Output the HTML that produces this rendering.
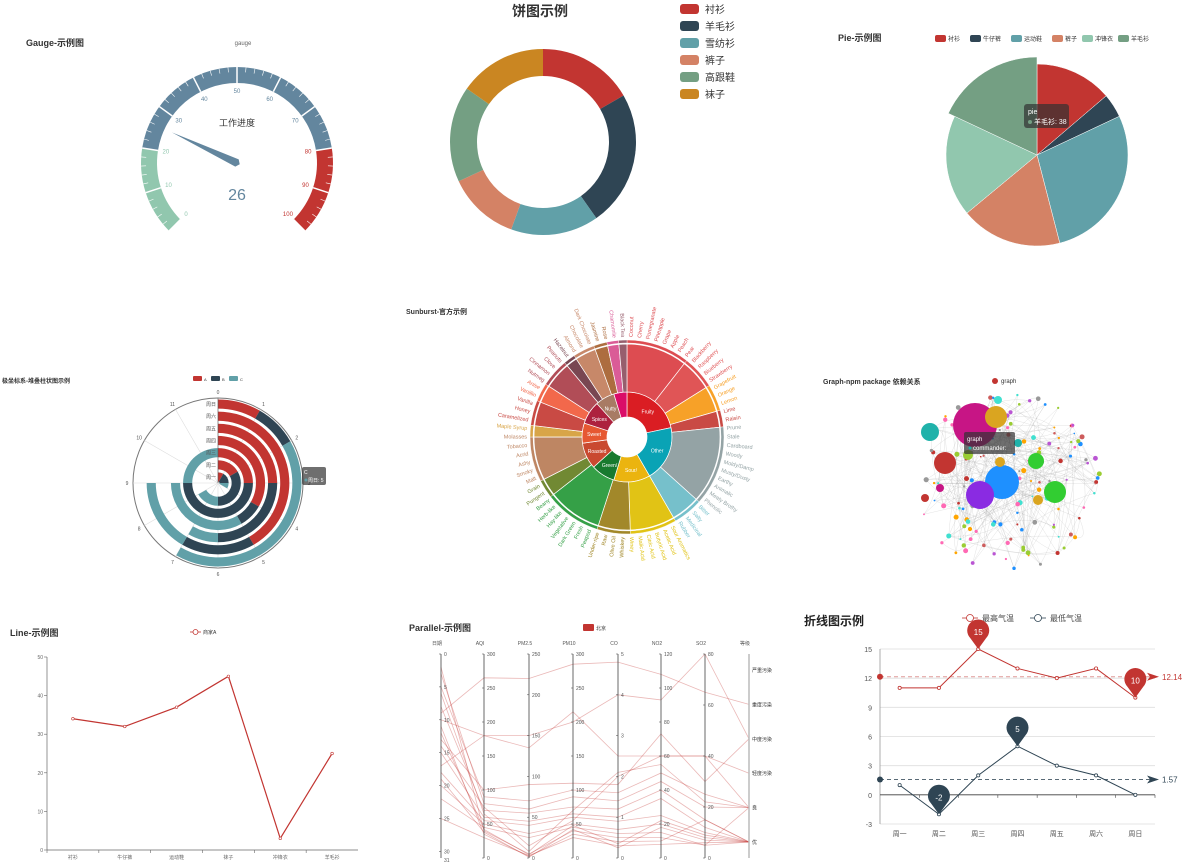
<!DOCTYPE html>
<html><head><meta charset="utf-8">
<style>
html,body{margin:0;padding:0;background:#fff;}
svg{display:block;font-family:"Liberation Sans","Noto Sans CJK SC",sans-serif;}
</style></head>
<body>
<svg id="root" width="1185" height="864" viewBox="0 0 1185 864" xmlns="http://www.w3.org/2000/svg">
<g id="gGauge"></g>
<g id="gDonut"></g>
<g id="gPie"></g>
<g id="gPolar"></g>
<g id="gSun"></g>
<g id="gGraph"></g>
<g id="gLine"></g>
<g id="gPar"></g>
<g id="gTemp"></g>
</svg>
<script>
// ---------- data ----------
const gaugeValue = 26;
const donutCats = ['衬衫','羊毛衫','雪纺衫','裤子','高跟鞋','袜子'];
const donutVals = [60,85,55,45,60,55];
const pieCats = ['衬衫','牛仔裤','运动鞋','裤子','冲锋衣','羊毛衫'];
const pieVals = [29,9,59,38,38,38];
const polarCats = ['周一','周二','周三','周四','周五','周六','周日'];
const polarA = [1,2,3,4,3,5,1];
const polarB = [2,4,6,1,3,2,1];
const polarC = [1,2,3,4,1,2,5];
const lineCats = ['衬衫','牛仔裤','运动鞋','袜子','冲锋衣','羊毛衫'];
const lineVals = [34,32,37,45,3,25];
const parDims = ['日期','AQI','PM2.5','PM10','CO','NO2','SO2','等级'];
const parMax = [31,300,250,300,5,120,80,5];
const parSteps = [5,50,50,50,1,20,20];
const parLevels = ['优','良','轻度污染','中度污染','重度污染','严重污染'];
const parRows = [
 [9,265,220,285,4.8,108,65,4],[17,180,150,200,4,93,80,3],[10,180,135,215,2.5,60,40,2],
 [13,100,90,110,1.8,73,30,3],[5,90,70,100,1.6,50,25,1],[3,80,60,90,1.4,45,20,1],
 [8,70,55,75,1.2,40,15,0],[15,60,45,65,1,35,12,0],[18,55,40,60,0.9,25,10,0],
 [20,50,30,50,0.7,20,8,0],[22,45,25,45,0.6,15,5,0],[2,40,5,40,0.5,12,5,1],
 [11,35,2,35,0.4,10,15,0],[25,30,3,30,0.3,8,6,0],[14,75,15,55,2,60,40,1],[6,65,8,70,2.1,55,22,1],
 [12,42,4,48,0.35,22,9,0],[19,38,1,42,0.25,18,7,0]
];
const tempCats = ['周一','周二','周三','周四','周五','周六','周日'];
const tempHigh = [11,11,15,13,12,13,10];
const tempLow = [1,-2,2,5,3,2,0];

// ---------- helpers ----------
const NS='http://www.w3.org/2000/svg';
function el(parent,tag,attrs,txt){const e=document.createElementNS(NS,tag);for(const k in attrs)e.setAttribute(k,attrs[k]);if(txt!==undefined)e.textContent=txt;parent.appendChild(e);return e;}
function pt(cx,cy,r,a){const t=a*Math.PI/180;return [cx+r*Math.sin(t),cy-r*Math.cos(t)];}
function arcPath(cx,cy,r0,r1,a0,a1){
 const big=(a1-a0)>180?1:0;const p1=pt(cx,cy,r1,a0),p2=pt(cx,cy,r1,a1);
 if(r0<=0){return `M${cx},${cy}L${p1[0]},${p1[1]}A${r1},${r1} 0 ${big} 1 ${p2[0]},${p2[1]}Z`;}
 const p3=pt(cx,cy,r0,a1),p4=pt(cx,cy,r0,a0);
 return `M${p1[0]},${p1[1]}A${r1},${r1} 0 ${big} 1 ${p2[0]},${p2[1]}L${p3[0]},${p3[1]}A${r0},${r0} 0 ${big} 0 ${p4[0]},${p4[1]}Z`;}
const PAL=['#c23531','#2f4554','#61a0a8','#d48265','#91c7ae','#749f83','#ca8622'];

// ---------- gauge ----------
(function(){const g=document.getElementById('gGauge');
 let t=el(g,'text',{x:26,y:46,'font-size':9,'font-weight':'bold',fill:'#333'},'Gauge-示例图');
 
 t=el(g,'text',{x:243,y:45,'font-size':6,fill:'#666','text-anchor':'middle'},'gauge');
 
 const cx=237,cy=163,R=96,r=80;
 const segs=[[0,20,'#91c7ae'],[20,80,'#63869e'],[80,100,'#c23531']];
 const ang=v=>-135+270*v/100;
 segs.forEach(s=>{const p=el(g,'path',{d:arcPath(cx,cy,r,R,ang(s[0]),ang(s[1])),fill:s[2]});
  });
 for(let v=0;v<=100;v+=2){const a=ang(v);const big=v%10===0;
  const p1=pt(cx,cy,R,a),p2=pt(cx,cy,big?r:R-5,a);
  el(g,'line',{x1:p1[0],y1:p1[1],x2:p2[0],y2:p2[1],stroke:'#fff','stroke-width':big?1.5:0.6});}
 for(let v=0;v<=100;v+=10){const a=ang(v);const p=pt(cx,cy,72,a);
  const c=v<=20?'#91c7ae':(v<80?'#63869e':'#c23531');
  const l=el(g,'text',{x:p[0],y:p[1]+2,'font-size':6,fill:c,'text-anchor':'middle'},String(v));
  }
 const a=ang(gaugeValue);const tip=pt(cx,cy,72,a),b1=pt(cx,cy,4,a+90),b2=pt(cx,cy,4,a-90),back=pt(cx,cy,3,a+180);
 const n=el(g,'path',{d:`M${tip[0]},${tip[1]}L${b1[0]},${b1[1]}L${back[0]},${back[1]}L${b2[0]},${b2[1]}Z`,fill:'#63869e'});
 
 t=el(g,'text',{x:cx,y:126,'font-size':9,fill:'#333','text-anchor':'middle'},'工作进度');
 
 t=el(g,'text',{x:cx,y:200,'font-size':16,fill:'#63869e','text-anchor':'middle'},String(gaugeValue));
 
})();

// ---------- donut ----------
(function(){const g=document.getElementById('gDonut');
 let t=el(g,'text',{x:540,y:16,'font-size':14,'font-weight':'bold',fill:'#333','text-anchor':'middle'},'饼图示例');
 
 const tot=donutVals.reduce((a,b)=>a+b,0);let acc=0;
 donutVals.forEach((v,i)=>{const a0=acc/tot*360;acc+=v;const a1=acc/tot*360;
  const p=el(g,'path',{d:arcPath(543,142,66,93,a0,a1),fill:PAL[i===4?5:(i===5?6:i)]});
  
  const y=9+i*17;
  const r=el(g,'rect',{x:680,y:y-5,width:19,height:10,rx:3,fill:PAL[i===4?5:(i===5?6:i)]});
  
  const tx=el(g,'text',{x:705,y:y+4,'font-size':10,fill:'#333'},donutCats[i]);
  });
})();

// ---------- pie ----------
(function(){const g=document.getElementById('gPie');
 let t=el(g,'text',{x:838,y:41,'font-size':9,'font-weight':'bold',fill:'#333'},'Pie-示例图');
 
 const cols=['#c23531','#2f4554','#61a0a8','#d48265','#91c7ae','#749f83'];
 const tot=pieVals.reduce((a,b)=>a+b,0);let acc=0;
 pieVals.forEach((v,i)=>{const a0=acc/tot*360;acc+=v;const a1=acc/tot*360;
  const p=el(g,'path',{d:arcPath(1037,155,0,i===5?98:91,a0,a1),fill:cols[i],stroke:'#fff','stroke-width':0.5});
  });
 const lx=[935,970,1011,1052,1082,1118];
 pieCats.forEach((c,i)=>{const r=el(g,'rect',{x:lx[i],y:35,width:11,height:7,rx:2,fill:cols[i]});
  
  const tx=el(g,'text',{x:lx[i]+13,y:41,'font-size':6,fill:'#333'},c);
  });
 const tt=el(g,'g',{});
 el(tt,'rect',{x:1024,y:104,width:45,height:24,rx:3,fill:'rgba(50,50,50,0.7)'});
 el(tt,'text',{x:1028,y:114,'font-size':7,fill:'#fff'},'pie');
 el(tt,'circle',{cx:1030,cy:122,r:2,fill:'#749f83'});
 el(tt,'text',{x:1034,y:124,'font-size':7,fill:'#fff'},'羊毛衫: 38');
})();

// ---------- polar ----------
(function(){const g=document.getElementById('gPolar');
 let t=el(g,'text',{x:2,y:383,'font-size':6,'font-weight':'bold',fill:'#333'},'极坐标系-堆叠柱状图示例');
 
 const cols=['#c23531','#2f4554','#61a0a8'];['A','B','C'].forEach((n,i)=>{
  const r=el(g,'rect',{x:193+i*18,y:376,width:9,height:5,rx:1,fill:cols[i]});
  
  const tx=el(g,'text',{x:204+i*18,y:381,'font-size':4,fill:'#333'},n);
  });
 const cx=218,cy=483,R=85,band=R/7,maxV=12;
 const c=el(g,'circle',{cx,cy,r:R,fill:'none',stroke:'#777','stroke-width':1});
 
 for(let k=0;k<12;k++){const a=k*30;const p=pt(cx,cy,R,a);
  el(g,'line',{x1:cx,y1:cy,x2:p[0],y2:p[1],stroke:'#ddd','stroke-width':0.6});
  const q=pt(cx,cy,R+6,a);
  const l=el(g,'text',{x:q[0],y:q[1]+2,'font-size':5,fill:'#555','text-anchor':'middle'},String(k));
  }
 const va=v=>v/maxV*360;
 polarCats.forEach((cat,i)=>{let s=0;const r0=i*band+1.5,r1=(i+1)*band-1.5;
  [polarA,polarB,polarC].forEach((arr,j)=>{const v=arr[i];if(v>0){
   const p=el(g,'path',{d:arcPath(cx,cy,Math.max(r0,0.1),r1,va(s),va(s+v)),fill:cols[j]});
   }s+=v;});
  const l=el(g,'text',{x:cx-2,y:cy-(i+0.5)*band+2,'font-size':5,fill:'#555','text-anchor':'end'},cat);
  });
 el(g,'line',{x1:cx,y1:cy,x2:cx,y2:cy-R,stroke:'#555','stroke-width':0.6});
 const tt=el(g,'g',{});
 el(tt,'rect',{x:302,y:467,width:24,height:18,rx:2,fill:'rgba(50,50,50,0.7)'});
 el(tt,'text',{x:304,y:474,'font-size':5,fill:'#fff'},'C');
 el(tt,'circle',{cx:306,cy:480,r:1.5,fill:'#61a0a8'});
 el(tt,'text',{x:308,y:482,'font-size':5,fill:'#fff'},'周日: 5');
})();

// ---------- sunburst ----------
(function(){const g=document.getElementById('gSun');
 let t=el(g,'text',{x:406,y:314,'font-size':7,'font-weight':'bold',fill:'#333'},'Sunburst-官方示例');
 
 const cx=627,cy=437;
 const inner=[[0,78,'#da1d23'],[78,150,'#0aa3b5'],[150,197,'#ebb40f'],[197,228,'#187a2f'],[228,262,'#c94930'],[262,288,'#e65832'],[288,318,'#ad213e'],[318,343,'#a87b64'],[343,360,'#da0d68']];
 const outer=[[0,38,'#dd4c51'],[38,58,'#e05556'],[58,74,'#f7a128'],[74,84,'#c94a44'],[84,132,'#94a3a5'],[132,150,'#76c0cb'],[150,178,'#e1c315'],[178,198,'#a2882a'],[198,232,'#35a047'],[232,243,'#718933'],[243,270,'#be8663'],[270,277,'#d8a548'],[277,292,'#c94a44'],[292,303,'#f2684b'],[303,320,'#b14d57'],[320,327,'#794752'],[327,340,'#c78869'],[340,348,'#ad6d3f'],[348,355,'#da5c97'],[355,360,'#975e6d']];
 inner.forEach(s=>{const p=el(g,'path',{d:arcPath(cx,cy,20,45,s[0],s[1]),fill:s[2],stroke:'#fff','stroke-width':0.7});
  });
 outer.forEach(s=>{const p=el(g,'path',{d:arcPath(cx,cy,45,93,s[0],s[1]),fill:s[2],stroke:'#fff','stroke-width':0.7});
  
  const q=el(g,'path',{d:arcPath(cx,cy,94,97,s[0],s[1]),fill:s[2],stroke:'#fff','stroke-width':0.4});
  });
 const names=['Coconut','Cherry','Pomegranate','Pineapple','Grape','Apple','Peach','Pear','Blackberry','Raspberry','Blueberry','Strawberry','Grapefruit','Orange','Lemon','Lime','Raisin','Prune','Stale','Cardboard','Woody','Moldy/Damp','Musty/Dusty','Earthy','Animalic','Meaty Brothy','Phenolic','Bitter','Salty','Medicinal','Rubber','Sour Aromatics','Acetic Acid','Butyric Acid','Citric Acid','Malic Acid','Winey','Whiskey','Olive Oil','Raw','Under-ripe','Peapod','Fresh','Dark Green','Vegetative','Hay-like','Herb-like','Beany','Pungent','Grain','Malt','Smoky','Ashy','Acrid','Tobacco','Molasses','Maple Syrup','Caramelized','Honey','Vanilla','Vanillin','Anise','Nutmeg','Cinnamon','Clove','Peanuts','Hazelnut','Almond','Chocolate','Dark Chocolate','Jasmine','Rose','Chamomile','Black Tea'];
 names.forEach((nm,i)=>{const a=i*360/names.length+2.4;let col='#999';
  for(const s of outer){if(a>=s[0]&&a<s[1]){col=s[2];break;}}
  const p=pt(cx,cy,100,a);const right=a<180;const rot=right?a-90:a+90;
  const l=el(g,'text',{x:p[0],y:p[1],'font-size':5.5,fill:col,'text-anchor':right?'start':'end',transform:`rotate(${rot} ${p[0]} ${p[1]})`,'dominant-baseline':'middle'},nm);
  });
 const lab=[['Fruity',39],['Other',114],['Sour/',173],['Green/',212],['Roasted',245],['Sweet',275],['Spices',303],['Nutty',330]];
 lab.forEach(l=>{const p=pt(cx,cy,33,l[1]);const tx=el(g,'text',{x:p[0],y:p[1]+2,'font-size':5,fill:'#fff','text-anchor':'middle'},l[0]);
  });
})();

// ---------- graph ----------
(function(){const g=document.getElementById('gGraph');
 let t=el(g,'text',{x:823,y:384,'font-size':7,'font-weight':'bold',fill:'#333'},'Graph-npm package 依赖关系');
 
 const ld=el(g,'circle',{cx:995,cy:381,r:3,fill:'#c23531'});
 t=el(g,'text',{x:1001,y:383,'font-size':6,fill:'#333'},'graph');
 let seed=7;const rnd=()=>{seed=(seed*16807)%2147483647;return seed/2147483647;};
 const cx=1005,cy=482,R=95;const pts=[];
 for(let i=0;i<160;i++){const a=rnd()*Math.PI*2,r=R*Math.sqrt(rnd());pts.push([cx+r*Math.cos(a),cy+r*Math.sin(a)*0.95]);}
 const links=el(g,'g',{stroke:'#999','stroke-opacity':0.35,'stroke-width':0.4,fill:'none'});
 
 for(let i=0;i<260;i++){const a=pts[Math.floor(rnd()*pts.length)],b=pts[Math.floor(rnd()*pts.length)];
  el(links,'path',{d:`M${a[0]},${a[1]}Q${(a[0]+b[0])/2+(rnd()-0.5)*30},${(a[1]+b[1])/2+(rnd()-0.5)*30} ${b[0]},${b[1]}`});}
 const dc=['#c23531','#1e90ff','#9acd32','#ff69b4','#ba55d3','#cd5c5c','#ffa500','#40e0d0','#999'];
 pts.forEach((p,i)=>{const c=el(g,'circle',{cx:p[0],cy:p[1],r:0.8+rnd()*1.8,fill:dc[i%dc.length]});
  });
 const big=[[975,425,22,'#c71585'],[996,417,11,'#daa520'],[945,463,11,'#c23531'],[1002,482,17,'#1e90ff'],[980,495,14,'#8a2be2'],[1036,461,8,'#32cd32'],[1055,492,11,'#32cd32'],[930,432,9,'#20b2aa'],[968,455,5,'#9acd32'],[1018,443,4,'#20b2aa'],[998,400,4,'#40e0d0'],[1038,500,5,'#daa520'],[925,498,4,'#c23531'],[940,488,4,'#c71585'],[1000,462,5,'#daa520']];
 big.forEach(b=>{const c=el(g,'circle',{cx:b[0],cy:b[1],r:b[2],fill:b[3]});
  });
 const tt=el(g,'g',{});
 el(tt,'rect',{x:964,y:432,width:51,height:22,rx:2,fill:'rgba(50,50,50,0.7)'});
 el(tt,'text',{x:967,y:441,'font-size':6,fill:'#fff'},'graph');
 el(tt,'circle',{cx:970,cy:448,r:1.5,fill:'#20b2aa'});
 el(tt,'text',{x:973,y:450,'font-size':6,fill:'#fff'},'commander:');
})();

// ---------- line ----------
(function(){const g=document.getElementById('gLine');
 let t=el(g,'text',{x:10,y:636,'font-size':9,'font-weight':'bold',fill:'#333'},'Line-示例图');
 
 el(g,'line',{x1:190,y1:632,x2:201,y2:632,stroke:'#c23531','stroke-width':0.8});
 const lm=el(g,'circle',{cx:195.5,cy:632,r:2.5,fill:'#fff',stroke:'#c23531','stroke-width':0.8});
 t=el(g,'text',{x:203,y:634,'font-size':5,fill:'#333'},'商家A');
 const x0=47,x1=358,y0=850,y1=657;const bw=(x1-x0)/lineCats.length;
 const X=i=>x0+bw*(i+0.5),Y=v=>y0-(v/50)*(y0-y1);
 const ax=el(g,'g',{});
 el(ax,'line',{x1:x0,y1:y0,x2:x0,y2:y1,stroke:'#666','stroke-width':0.7});
 for(let v=0;v<=50;v+=10){el(ax,'line',{x1:x0-3,y1:Y(v),x2:x0,y2:Y(v),stroke:'#666','stroke-width':0.6});
  el(ax,'text',{x:x0-4,y:Y(v)+2,'font-size':5,fill:'#666','text-anchor':'end'},String(v));}
 const bx=el(g,'g',{});
 el(bx,'line',{x1:x0,y1:y0,x2:x1,y2:y0,stroke:'#666','stroke-width':0.7});
 lineCats.forEach((c,i)=>{el(bx,'line',{x1:x0+bw*i,y1:y0,x2:x0+bw*i,y2:y0+3,stroke:'#666','stroke-width':0.6});
  el(bx,'text',{x:X(i),y:y0+9,'font-size':5,fill:'#666','text-anchor':'middle'},c);});
 const p=el(g,'polyline',{points:lineVals.map((v,i)=>X(i)+','+Y(v)).join(' '),fill:'none',stroke:'#c23531','stroke-width':1.2});
 
 lineVals.forEach((v,i)=>{const c=el(g,'circle',{cx:X(i),cy:Y(v),r:1.3,fill:'#fff',stroke:'#c23531','stroke-width':0.6});
  });
})();

// ---------- parallel ----------
(function(){const g=document.getElementById('gPar');
 let t=el(g,'text',{x:409,y:631,'font-size':9,'font-weight':'bold',fill:'#333'},'Parallel-示例图');
 
 const lr=el(g,'rect',{x:583,y:624,width:11,height:7,rx:1,fill:'#c23531'});
 t=el(g,'text',{x:596,y:630,'font-size':5,fill:'#333'},'北京');
 const xs=[441,484,529,573,618,661,705,749];const top=654,bot=858;
 const Y=(d,v)=>{if(d===0)return top+(v/31)*(bot-top);if(d===7)return 842-v*34.4;return bot-(v/parMax[d])*(bot-top);};
 parRows.forEach(r=>{const p=el(g,'polyline',{points:r.map((v,d)=>xs[d]+','+Y(d,v)).join(' '),fill:'none',stroke:'#c23531','stroke-opacity':0.35,'stroke-width':0.8});
  });
 parDims.forEach((nm,d)=>{const ax=el(g,'g',{});
  el(ax,'line',{x1:xs[d],y1:top,x2:xs[d],y2:bot,stroke:d===7?'#bbb':'#444','stroke-width':d===7?1.5:0.8});
  el(ax,'text',{x:xs[d]-4,y:645,'font-size':5,fill:'#555','text-anchor':'middle'},nm);
  if(d===7){parLevels.forEach((lv,k)=>{el(ax,'text',{x:xs[d]+3,y:842-k*34.4+2,'font-size':5,fill:'#333'},lv);});}
  else{const st=parSteps[d];
   for(let v=0;v<=parMax[d]+1e-9;v+=st){el(ax,'text',{x:xs[d]+3,y:Y(d,v)+2,'font-size':5,fill:'#555'},String(Math.round(v*10)/10));
    el(ax,'line',{x1:xs[d]-2,y1:Y(d,v),x2:xs[d],y2:Y(d,v),stroke:'#444','stroke-width':0.5});}
   if(d===0){el(ax,'text',{x:xs[d]+3,y:bot+4,'font-size':5,fill:'#555'},'31');}}});
})();

// ---------- temperature ----------
(function(){const g=document.getElementById('gTemp');
 let t=el(g,'text',{x:804,y:625,'font-size':12,'font-weight':'bold',fill:'#222'},'折线图示例');
 
 [['最高气温','#c23531',962],['最低气温','#2f4554',1030]].forEach(l=>{
  el(g,'line',{x1:l[2],y1:618,x2:l[2]+16,y2:618,stroke:l[1],'stroke-width':0.8});
  const c=el(g,'circle',{cx:l[2]+8,cy:618,r:3.5,fill:'#fff',stroke:l[1],'stroke-width':0.8});
  
  const tx=el(g,'text',{x:l[2]+20,y:621,'font-size':8,fill:'#444'},l[0]);
  });
 const x0=880,x1=1155,yT=649,yB=824,vmin=-3,vmax=15;const bw=(x1-x0)/tempCats.length;
 const X=i=>x0+bw*(i+0.5),Y=v=>yB-(v-vmin)/(vmax-vmin)*(yB-yT);
 const grid=el(g,'g',{});
 for(let v=-3;v<=15;v+=3){el(grid,'line',{x1:x0,y1:Y(v),x2:x1,y2:Y(v),stroke:'#ddd','stroke-width':0.8});
  el(grid,'text',{x:x0-8,y:Y(v)+3,'font-size':7,fill:'#555','text-anchor':'end'},String(v));}
 el(grid,'line',{x1:x0,y1:yT,x2:x0,y2:yB,stroke:'#999','stroke-width':0.8});
 const xa=el(g,'g',{});
 el(xa,'line',{x1:x0,y1:Y(0),x2:x1,y2:Y(0),stroke:'#444','stroke-width':0.8});
 tempCats.forEach((c,i)=>{el(xa,'line',{x1:x0+bw*(i+1),y1:Y(0),x2:x0+bw*(i+1),y2:Y(0)+3,stroke:'#444','stroke-width':0.6});
  el(xa,'text',{x:X(i),y:yB+12,'font-size':7,fill:'#555','text-anchor':'middle'},c);});
 function series(vals,col,name){
  const avg=vals.reduce((a,b)=>a+b,0)/vals.length;
  const ml=el(g,'g',{});
  el(ml,'line',{x1:x0,y1:Y(avg),x2:x1-4,y2:Y(avg),stroke:col,'stroke-width':1,'stroke-dasharray':'4,3','stroke-opacity':name==='high'?0.5:0.8});
  el(ml,'circle',{cx:x0,cy:Y(avg),r:3,fill:col});
  el(ml,'path',{d:`M${x1-8},${Y(avg)-4}L${x1+4},${Y(avg)}L${x1-8},${Y(avg)+4}L${x1-5},${Y(avg)}Z`,fill:col});
  el(ml,'text',{x:x1+7,y:Y(avg)+3,'font-size':8,fill:col},String(Math.round(avg*100)/100));
  const p=el(g,'polyline',{points:vals.map((v,i)=>X(i)+','+Y(v)).join(' '),fill:'none',stroke:col,'stroke-width':1});
  
  vals.forEach((v,i)=>{const c=el(g,'circle',{cx:X(i),cy:Y(v),r:1.6,fill:'#fff',stroke:col,'stroke-width':0.8});
   });
  let mi=0,ma=0;vals.forEach((v,i)=>{if(v>vals[ma])ma=i;if(v<vals[mi])mi=i;});
  [ma,mi].forEach(i=>{const px=X(i),py=Y(vals[i]);const cy=py-17;
   const pin=el(g,'g',{});
   el(pin,'path',{d:`M${px},${py}L${px-8},${cy+6}A11,11 0 1 1 ${px+8},${cy+6}Z`,fill:col});
   el(pin,'text',{x:px,y:cy+3,'font-size':8,fill:'#fff','text-anchor':'middle'},String(vals[i]));});
 }
 series(tempHigh,'#c23531','high');series(tempLow,'#2f4554','low');
})();
</script>
</body></html>
